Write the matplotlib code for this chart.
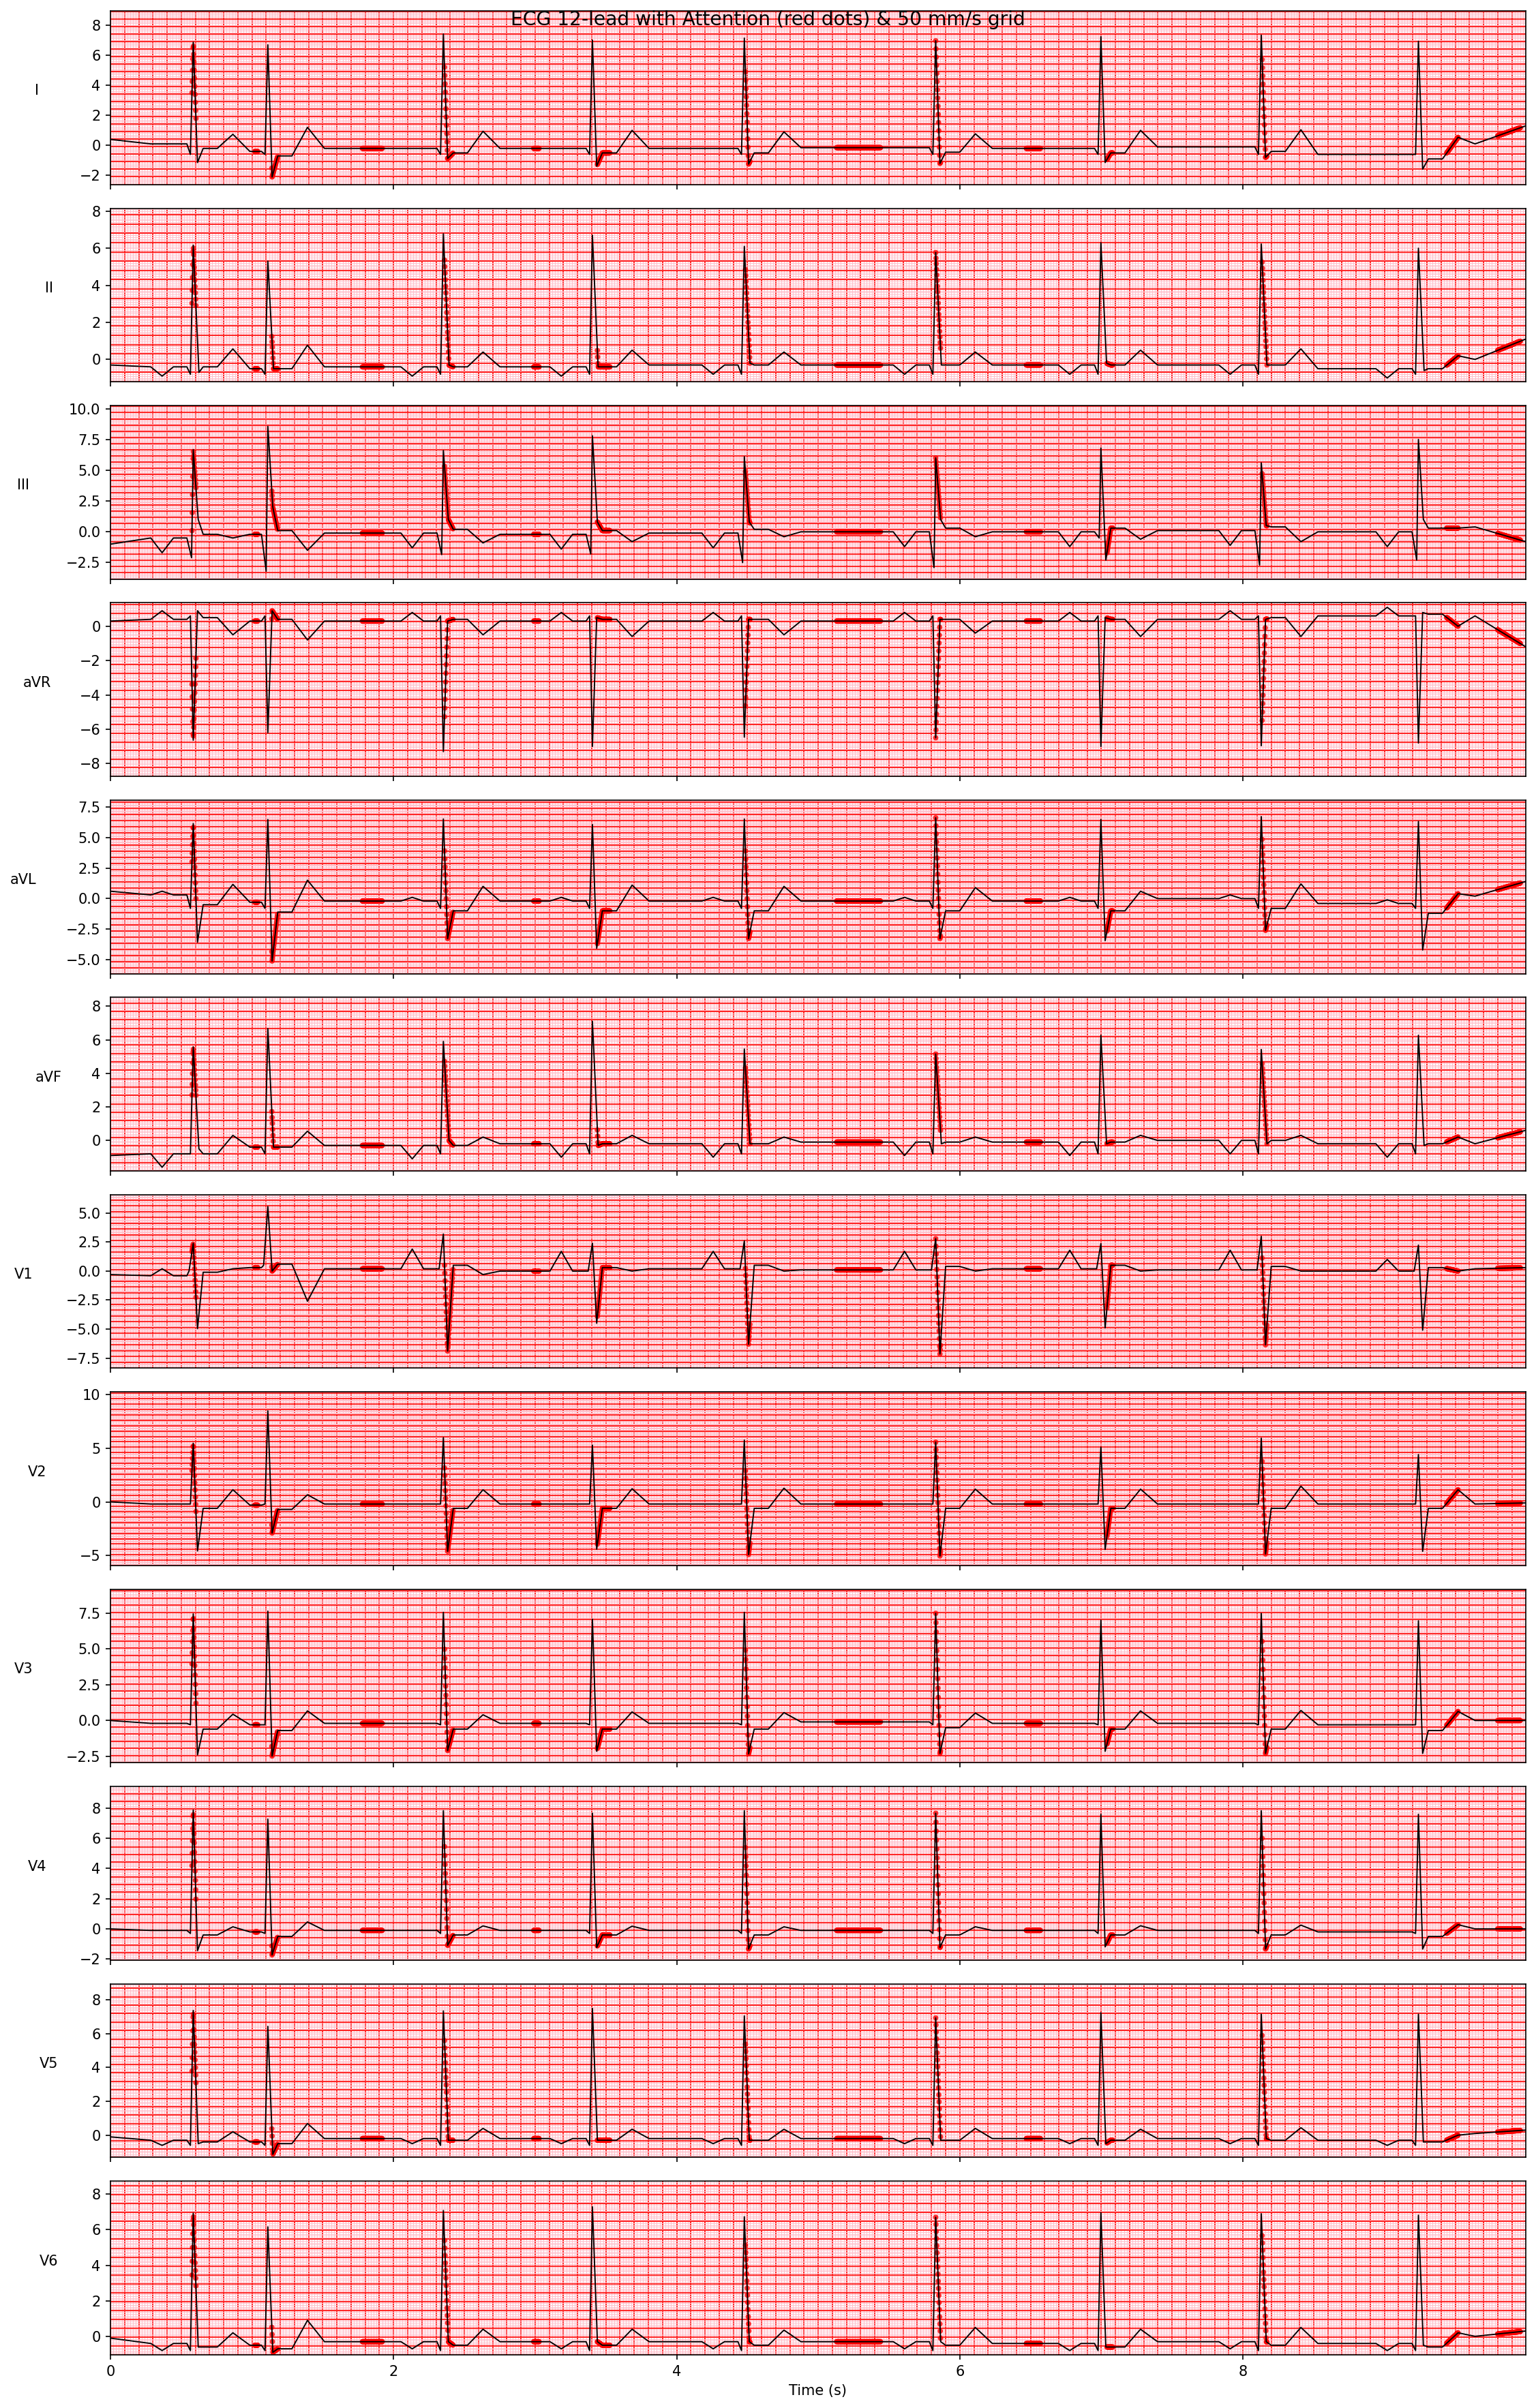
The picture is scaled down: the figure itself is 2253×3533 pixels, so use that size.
import numpy as np
import matplotlib
matplotlib.use("Agg")
import matplotlib.pyplot as plt

# ---------------- data ----------------
LEADS = ["I", "II", "III", "aVR", "aVL", "aVF", "V1", "V2", "V3", "V4", "V5", "V6"]
BEAT_TIMES = [0.585, 1.112, 2.352, 3.405, 4.478, 5.830, 6.997, 8.130, 9.240]
T_END = 9.998

# attention windows (shared by all leads), seconds
ATT_START = [0.575, 1.020, 1.140, 1.780, 2.360, 2.990, 3.440, 4.485, 5.130, 5.830, 6.470, 7.040, 8.135, 9.440, 9.800]
ATT_STOP = [0.605, 1.040, 1.180, 1.920, 2.420, 3.030, 3.530, 4.520, 5.440, 5.865, 6.570, 7.080, 8.170, 9.520, 9.960]

# y-limits per lead
YLIM = {
    "I": (-2.59, 8.94), "II": (-1.20, 8.16), "III": (-3.83, 10.25), "aVR": (-8.74, 1.36),
    "aVL": (-6.13, 8.04), "aVF": (-1.82, 8.52), "V1": (-8.38, 6.58), "V2": (-5.92, 10.2),
    "V3": (-2.96, 9.15), "V4": (-2.07, 9.40), "V5": (-1.32, 8.93), "V6": (-1.04, 8.72),
}

# per lead: start/end value, baseline before each beat (+ after last), P (relative), Q, R, S, T (absolute), ST (relative)
START = {"I": 0.4, "II": -0.3, "III": -1.0, "aVR": 0.3, "aVL": 0.6, "aVF": -0.9,
         "V1": -0.3, "V2": 0.0, "V3": 0.0, "V4": 0.0, "V5": -0.1, "V6": -0.1}
END = {"I": 1.3, "II": 1.1, "III": -0.8, "aVR": -1.2, "aVL": 1.4, "aVF": 0.6,
       "V1": 0.3, "V2": -0.1, "V3": 0.0, "V4": 0.0, "V5": 0.3, "V6": 0.3}
ST = {"I": -0.3, "II": 0.0, "III": 0.3, "aVR": 0.1, "aVL": -0.8, "aVF": 0.0,
      "V1": 0.3, "V2": -0.4, "V3": -0.4, "V4": -0.3, "V5": -0.1, "V6": -0.2}

B_I = [0.1, -0.4, -0.2, -0.2, -0.2, -0.15, -0.2, -0.1, -0.6, 0.1]
B_II = [-0.4, -0.5, -0.4, -0.4, -0.3, -0.3, -0.3, -0.3, -0.5, 0.0]
B_III = [-0.5, -0.2, -0.1, -0.2, -0.1, 0.0, 0.0, 0.1, 0.0, 0.4]
B_aVR = [0.4, 0.3, 0.3, 0.3, 0.3, 0.3, 0.3, 0.4, 0.6, 0.6]
B_aVL = [0.3, -0.3, -0.2, -0.2, -0.2, -0.2, -0.2, 0.0, -0.4, 0.2]
B_aVF = [-0.8, -0.4, -0.3, -0.2, -0.2, -0.1, -0.1, 0.0, -0.2, -0.2]
B_V1 = [-0.4, 0.3, 0.2, 0.0, 0.2, 0.1, 0.2, 0.1, 0.0, 0.2]
B_V2 = [-0.2, -0.3, -0.2, -0.2, -0.2, -0.2, -0.2, -0.2, -0.2, -0.2]
B_V3 = [-0.2, -0.3, -0.2, -0.2, -0.2, -0.1, -0.2, -0.2, -0.3, 0.0]
B_V4 = [-0.1, -0.2, -0.1, -0.1, -0.1, -0.1, -0.1, -0.1, -0.2, 0.0]
B_V5 = [-0.3, -0.4, -0.2, -0.2, -0.2, -0.2, -0.2, -0.2, -0.3, 0.1]
B_V6 = [-0.4, -0.5, -0.3, -0.3, -0.3, -0.3, -0.4, -0.3, -0.4, 0.0]

P_I = [0.0] * 9
P_II = [-0.5] * 9
P_III = [-1.2] * 9
P_aVR = [0.5] * 9
P_aVL = [0.3] * 9
P_aVF = [-0.8] * 9
P_V1 = [0.6, 0.7, 1.7, 1.7, 1.5, 1.6, 1.6, 1.7, 1.0]
P_V2 = [0.0] * 9
P_V3 = [0.0] * 9
P_V4 = [0.0] * 9
P_V5 = [-0.3] * 9
P_V6 = [-0.4] * 9

Q_I = [-0.6] * 9
Q_II = [-0.8] * 9
Q_III = [-2.1, -3.2, -1.85, -1.8, -2.5, -2.9, -0.5, -2.7, -2.3]
Q_aVR = [0.6] * 9
Q_aVL = [-0.8] * 9
Q_aVF = [-0.8] * 9
Q_V1 = [0.0, 0.5, 0.2, 0.0, 0.2, 0.1, 0.2, 0.1, 0.0]
Q_V2 = [-0.2] * 9
Q_V3 = [-0.3] * 9
Q_V4 = [-0.3] * 9
Q_V5 = [-0.6] * 9
Q_V6 = [-0.8] * 9

R_I = [6.86, 6.69, 7.40, 7.00, 7.13, 6.96, 7.23, 7.33, 6.92]
R_II = [6.17, 5.30, 6.78, 6.70, 6.10, 5.77, 6.30, 6.23, 6.00]
R_III = [6.67, 8.56, 6.60, 7.80, 6.10, 6.00, 6.80, 5.60, 7.50]
R_aVR = [-6.64, -6.20, -7.30, -7.00, -6.46, -6.50, -7.00, -6.96, -6.80]
R_aVL = [6.13, 6.46, 6.50, 6.05, 6.50, 6.60, 6.46, 6.70, 6.30]
R_aVF = [5.58, 6.67, 5.90, 7.10, 5.45, 5.15, 6.27, 5.42, 6.27]
R_V1 = [2.40, 5.57, 3.20, 2.40, 2.60, 2.80, 2.37, 3.00, 2.24]
R_V2 = [5.45, 8.46, 5.97, 5.27, 5.74, 5.55, 5.08, 5.92, 4.40]
R_V3 = [7.44, 7.63, 7.55, 7.07, 7.55, 7.48, 7.00, 7.48, 6.96]
R_V4 = [7.86, 7.26, 7.82, 7.65, 7.82, 7.65, 7.58, 7.82, 7.58]
R_V5 = [7.37, 6.43, 7.34, 7.49, 7.05, 6.93, 7.24, 7.15, 7.15]
R_V6 = [6.93, 6.16, 7.08, 7.29, 6.73, 6.70, 6.96, 6.90, 6.82]

S_I = [-1.14, -2.10, -0.87, -1.38, -1.24, -1.20, -1.14, -0.80, -1.58]
S_II = [-0.7, -0.5, -0.3, -0.4, -0.2, -0.3, -0.2, -0.3, -0.6]
S_III = [1.0, 2.0, 1.0, 0.8, 0.8, 1.0, -2.3, 0.5, 1.0]
S_aVR = [0.9, 0.9, 0.3, 0.5, 0.4, 0.4, 0.5, 0.4, 0.8]
S_aVL = [-3.56, -5.10, -3.27, -4.06, -3.27, -3.27, -3.44, -2.60, -4.20]
S_aVF = [-0.5, -0.4, 0.0, -0.3, -0.2, -0.2, -0.2, -0.2, -0.3]
S_V1 = [-4.96, 0.0, -6.90, -4.50, -6.30, -7.15, -4.90, -6.36, -5.10]
S_V2 = [-4.56, -2.90, -4.60, -4.40, -4.90, -5.03, -4.42, -4.84, -4.60]
S_V3 = [-2.40, -2.48, -2.10, -2.15, -2.33, -2.30, -2.15, -2.30, -2.30]
S_V4 = [-1.44, -1.72, -1.09, -1.23, -1.33, -1.23, -1.19, -1.33, -1.33]
S_V5 = [-0.5, -1.13, -0.3, -0.3, -0.3, -0.3, -0.5, -0.2, -0.4]
S_V6 = [-0.6, -0.9, -0.3, -0.3, -0.3, -0.3, -0.6, -0.3, -0.5]

T_I = [0.74, 1.20, 0.94, 1.00, 0.90, 0.77, 1.00, 1.04, 0.54]
T_II = [0.57, 0.77, 0.40, 0.50, 0.40, 0.40, 0.50, 0.57, 0.20]
T_III = [-0.5, -1.5, -0.9, -0.8, -0.4, -0.4, -0.6, -0.8, 0.3]
T_aVR = [-0.5, -0.8, -0.5, -0.6, -0.5, -0.4, -0.6, -0.6, 0.0]
T_aVL = [1.16, 1.50, 1.00, 1.10, 1.00, 0.90, 0.60, 1.20, 0.40]
T_aVF = [0.3, 0.55, 0.2, 0.3, 0.2, 0.2, 0.3, 0.3, 0.2]
T_V1 = [0.2, -2.6, -0.3, 0.0, 0.0, 0.0, 0.0, 0.0, 0.0]
T_V2 = [1.13, 0.66, 1.13, 1.22, 1.27, 1.18, 1.18, 1.46, 1.13]
T_V3 = [0.44, 0.67, 0.40, 0.60, 0.55, 0.52, 0.67, 0.70, 0.63]
T_V4 = [0.14, 0.46, 0.20, 0.18, 0.14, 0.14, 0.21, 0.25, 0.28]
T_V5 = [0.20, 0.69, 0.40, 0.35, 0.35, 0.40, 0.35, 0.44, 0.00]
T_V6 = [0.20, 0.90, 0.40, 0.40, 0.35, 0.50, 0.40, 0.50, 0.20]

BASE = {"I": B_I, "II": B_II, "III": B_III, "aVR": B_aVR, "aVL": B_aVL, "aVF": B_aVF,
        "V1": B_V1, "V2": B_V2, "V3": B_V3, "V4": B_V4, "V5": B_V5, "V6": B_V6}
PW = {"I": P_I, "II": P_II, "III": P_III, "aVR": P_aVR, "aVL": P_aVL, "aVF": P_aVF,
      "V1": P_V1, "V2": P_V2, "V3": P_V3, "V4": P_V4, "V5": P_V5, "V6": P_V6}
QW = {"I": Q_I, "II": Q_II, "III": Q_III, "aVR": Q_aVR, "aVL": Q_aVL, "aVF": Q_aVF,
      "V1": Q_V1, "V2": Q_V2, "V3": Q_V3, "V4": Q_V4, "V5": Q_V5, "V6": Q_V6}
RW = {"I": R_I, "II": R_II, "III": R_III, "aVR": R_aVR, "aVL": R_aVL, "aVF": R_aVF,
      "V1": R_V1, "V2": R_V2, "V3": R_V3, "V4": R_V4, "V5": R_V5, "V6": R_V6}
SW = {"I": S_I, "II": S_II, "III": S_III, "aVR": S_aVR, "aVL": S_aVL, "aVF": S_aVF,
      "V1": S_V1, "V2": S_V2, "V3": S_V3, "V4": S_V4, "V5": S_V5, "V6": S_V6}
TW = {"I": T_I, "II": T_II, "III": T_III, "aVR": T_aVR, "aVL": T_aVL, "aVF": T_aVF,
      "V1": T_V1, "V2": T_V2, "V3": T_V3, "V4": T_V4, "V5": T_V5, "V6": T_V6}

# waveform timing (s, relative to R peak)
S_OFFSET = {"II": 0.04, "III": 0.035, "aVF": 0.04, "V5": 0.035, "V6": 0.035}
Q_OFFSET = {"III": -0.012, "V1": -0.03}


def lead_vertices(name):
    b, p, q, r, s, t = BASE[name], PW[name], QW[name], RW[name], SW[name], TW[name]
    st = ST[name]
    so = S_OFFSET.get(name, 0.03)
    qo = Q_OFFSET.get(name, -0.02)
    ts, vs = [0.0], [START[name]]
    last = 0.0
    for k, rt in enumerate(BEAT_TIMES):
        pts = [(rt - 0.30, b[k]), (rt - 0.22, b[k] + p[k]), (rt - 0.14, b[k]),
               (rt - 0.045, b[k]), (rt + qo, q[k]), (rt, r[k]), (rt + so, s[k]),
               (rt + 0.07, b[k] + st), (rt + 0.17, b[k] + st), (rt + 0.28, t[k]),
               (rt + 0.40, b[k + 1])]
        for tt, vv in pts:
            if tt > last:
                ts.append(tt)
                vs.append(vv)
                last = tt
    ts.append(T_END)
    vs.append(END[name])
    return np.array(ts), np.array(vs)


# ---------------- figure ----------------
fig, axes = plt.subplots(len(LEADS), 1, sharex=True, figsize=(2253 / 150, 3533 / 150), dpi=150)
fig.subplots_adjust(left=0.0719, right=0.9933, top=0.99547, bottom=0.02208, hspace=0.1375)

samp_t = np.arange(0, T_END + 1e-9, 0.002)
att_mask = np.zeros_like(samp_t, dtype=bool)
for a0, a1 in zip(ATT_START, ATT_STOP):
    att_mask |= (samp_t >= a0) & (samp_t <= a1)

for ax, name in zip(axes, LEADS):
    lo, hi = YLIM[name]
    xt = ax.get_xaxis_transform()
    yt = ax.get_yaxis_transform()
    # ECG paper grid: minor x, major x, minor y, major y
    ax.vlines(np.arange(0, T_END, 0.02), 0, 1, transform=xt, colors="pink", linewidth=0.5, zorder=0.6)
    ax.vlines(np.arange(0, T_END, 0.1), 0, 1, transform=xt, colors="#ff2828", linewidth=1.0, zorder=0.7)
    ax.hlines(np.arange(lo, hi, 0.1), 0, 1, transform=yt, colors="pink", linewidth=0.5, zorder=0.8)
    ax.hlines(np.arange(lo, hi, 0.5), 0, 1, transform=yt, colors="#ff2828", linewidth=1.0, zorder=0.9)

    ts, vs = lead_vertices(name)
    ax.plot(ts, vs, color="black", linewidth=0.9, zorder=3)
    dots = np.interp(samp_t[att_mask], ts, vs)
    ax.scatter(samp_t[att_mask], dots, s=14, color="red", alpha=0.8, edgecolors="none", zorder=2)

    ax.set_xlim(0, T_END)
    ax.set_ylim(lo, hi)
    ax.set_ylabel(name, rotation=0, labelpad=30)

axes[-1].set_xlabel("Time (s)")
axes[-1].set_xticks([0, 2, 4, 6, 8])
fig.suptitle("ECG 12-lead with Attention (red dots) & 50 mm/s grid", y=0.9896, va="baseline", fontsize=13.5)

fig.savefig("out.png", dpi=150)
